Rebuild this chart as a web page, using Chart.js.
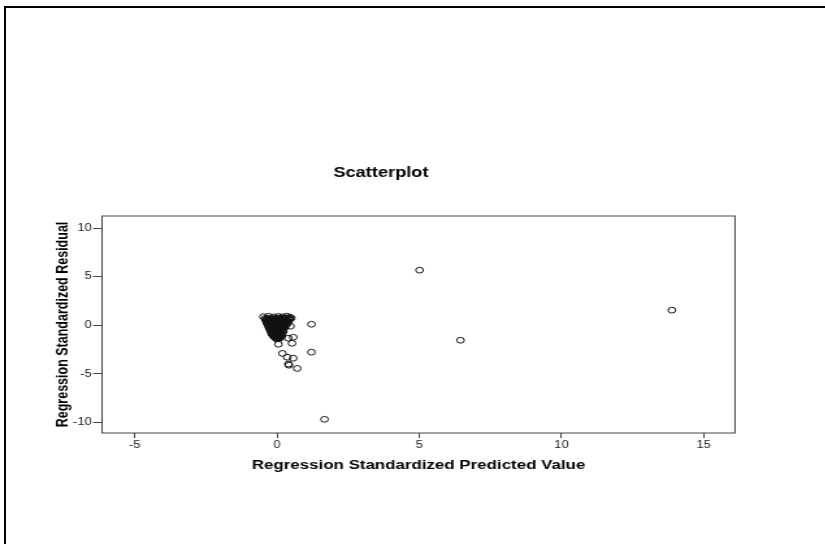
<!DOCTYPE html>
<html>
<head>
<meta charset="utf-8">
<title>Scatterplot</title>
<script src="https://cdn.jsdelivr.net/npm/chart.js@4.4.0/dist/chart.umd.min.js"></script>
<style>
  html, body { margin: 0; padding: 0; background: #fff; overflow: hidden; }
  #frame {
    position: absolute; left: 4px; top: 6px; width: 821px; height: 538px;
    border-left: 2px solid #000; border-top: 2px solid #000;
  }
  /* the original output is stretched sideways, so the canvas is drawn narrow and widened */
  #wrap {
    position: absolute; left: 0; top: 0; width: 635px; height: 544px;
    transform: scaleX(1.3); transform-origin: 0 0;
  }
</style>
</head>
<body>
<div id="frame"></div>
<div id="wrap"><canvas id="scatter" width="635" height="544"></canvas></div>

<script>
// Regression standardized predicted value (x) and residual (y)
const predictedValues = [
  // dense cluster near the origin
  -0.48, -0.30, -0.12, 0.05, 0.20, 0.34, 0.45,
  -0.42, -0.31, -0.18, -0.05, 0.08, 0.19, 0.30, 0.42, 0.50,
  -0.40, -0.27, -0.15, -0.02, 0.11, 0.22, 0.33, 0.44,
  -0.37, -0.26, -0.13, -0.03, 0.09, 0.21, 0.31, 0.40,
  -0.36, -0.23, -0.12, 0.01, 0.12, 0.23, 0.34,
  -0.33, -0.21, -0.10, 0.02, 0.14, 0.25, 0.35,
  -0.30, -0.18, -0.07, 0.04, 0.15, 0.27,
  -0.27, -0.16, -0.05, 0.06, 0.17, 0.28,
  -0.25, -0.14, -0.03, 0.08, 0.19,
  -0.22, -0.11, 0.00, 0.10, 0.21,
  -0.20, -0.09, 0.02, 0.12, 0.22,
  -0.17, -0.06, 0.05, 0.15,
  -0.14, -0.03, 0.07, 0.17,
  -0.10, 0.00, 0.10,
  -0.06, 0.04, 0.12,
  -0.02, 0.07,
  // second, offset layer that fills the cluster in
  -0.36, -0.24, -0.09, 0.02, 0.14, 0.27, 0.38,
  -0.33, -0.20, -0.08, 0.04, 0.16, 0.28, 0.37,
  -0.31, -0.19, -0.06, 0.06, 0.18, 0.29,
  -0.28, -0.15, -0.04, 0.08, 0.20,
  -0.23, -0.12, -0.01, 0.11, 0.20,
  -0.19, -0.07, 0.04, 0.14,
  -0.15, -0.04, 0.08, 0.16,
  -0.11, 0.01, 0.09,
  -0.04, 0.06,
  // scattered points below and right of the cluster
  0.47, 0.57, 0.40, 0.53, 0.05, 0.19, 0.36, 0.57, 0.40, 0.42, 0.71,
  1.21, 1.21, 1.67, 5.01, 6.45, 13.88
];
const residualValues = [
  0.88, 0.92, 0.85, 0.90, 0.86, 0.93, 0.84,
  0.70, 0.72, 0.68, 0.71, 0.73, 0.69, 0.72, 0.70, 0.74,
  0.55, 0.53, 0.57, 0.54, 0.56, 0.52, 0.55, 0.57,
  0.40, 0.42, 0.38, 0.41, 0.39, 0.42, 0.40, 0.37,
  0.25, 0.23, 0.27, 0.24, 0.26, 0.22, 0.25,
  0.10, 0.12, 0.08, 0.11, 0.09, 0.12, 0.10,
  -0.05, -0.03, -0.07, -0.04, -0.06, -0.05,
  -0.20, -0.22, -0.18, -0.21, -0.19, -0.22,
  -0.35, -0.37, -0.33, -0.36, -0.34,
  -0.50, -0.52, -0.48, -0.51, -0.49,
  -0.65, -0.63, -0.67, -0.64, -0.66,
  -0.80, -0.82, -0.78, -0.81,
  -0.95, -0.97, -0.93, -0.96,
  -1.10, -1.12, -1.08,
  -1.25, -1.23, -1.27,
  -1.40, -1.38,
  0.62, 0.64, 0.60, 0.63, 0.61, 0.65, 0.62,
  0.32, 0.30, 0.34, 0.31, 0.33, 0.30, 0.32,
  0.02, 0.04, 0.00, 0.03, 0.01, 0.02,
  -0.28, -0.26, -0.30, -0.27, -0.29,
  -0.57, -0.59, -0.55, -0.58, -0.56,
  -0.88, -0.86, -0.90, -0.87,
  -1.03, -1.05, -1.01, -1.04,
  -1.18, -1.32, -1.16,
  -1.33, -1.31,
  -0.10, -1.24, -1.34, -1.86, -1.96, -2.90, -3.30, -3.40, -4.00, -4.12, -4.45,
  0.10, -2.78, -9.69, 5.67, -1.55, 1.55
];

const xTickValues = [-5, 0, 5, 10, 15];
const yTickValues = [-10, -5, 0, 5, 10];

const chartTitle = 'Scatterplot';
const xAxisTitle = 'Regression Standardized Predicted Value';
const yAxisTitle = 'Regression Standardized Residual';

Chart.defaults.font.family = "'Liberation Sans', Arial, sans-serif";

const points = predictedValues.map((x, i) => ({ x: x, y: residualValues[i] }));

// frame round the plot area and the title above it
const framePlugin = {
  id: 'frame',
  afterDatasetsDraw(chart) {
    const { ctx, chartArea } = chart;
    ctx.save();
    ctx.strokeStyle = '#444';
    ctx.lineWidth = 1;
    ctx.strokeRect(chartArea.left, chartArea.top,
      chartArea.right - chartArea.left, chartArea.bottom - chartArea.top);
    ctx.fillStyle = '#000';
    ctx.font = "bold 14px 'Liberation Sans', Arial, sans-serif";
    ctx.textAlign = 'center';
    ctx.textBaseline = 'middle';
    ctx.fillText(chartTitle, 293, 173);
    ctx.restore();
  }
};

new Chart(document.getElementById('scatter'), {
  type: 'scatter',
  data: {
    datasets: [{
      data: points,
      pointRadius: 2.9,
      pointBorderWidth: 1,
      pointBorderColor: '#111',
      pointBackgroundColor: 'rgba(0,0,0,0)'
    }]
  },
  options: {
    responsive: false,
    animation: false,
    layout: { padding: { left: 0, top: 216, right: 69.6, bottom: 0 } },
    plugins: {
      legend: { display: false },
      tooltip: { enabled: false }
    },
    scales: {
      x: {
        type: 'linear',
        min: -6.15,
        max: 16.1,
        afterBuildTicks: s => { s.ticks = xTickValues.map(v => ({ value: v })); },
        afterFit: s => { s.height = 111; },
        grid: { drawOnChartArea: false, drawTicks: true, tickLength: 5, color: '#444' },
        border: { display: false },
        ticks: { color: '#222', font: { size: 10 }, padding: 1, maxRotation: 0, autoSkip: false },
        title: {
          display: true, text: xAxisTitle, color: '#000',
          font: { size: 13, weight: 'bold' },
          padding: { top: 0, bottom: 71 }
        }
      },
      y: {
        type: 'linear',
        min: -11.1,
        max: 11.25,
        afterBuildTicks: s => { s.ticks = yTickValues.map(v => ({ value: v })); },
        afterFit: s => { s.width = 78.5; },
        grid: { drawOnChartArea: false, drawTicks: true, tickLength: 7, color: '#444' },
        border: { display: false },
        ticks: { color: '#222', font: { size: 10 }, padding: 1, autoSkip: false },
        title: {
          display: true, text: yAxisTitle, color: '#000',
          font: { size: 12.5, weight: 'bold' },
          padding: { top: 41, bottom: 0 }
        }
      }
    }
  },
  plugins: [framePlugin]
});
</script>
</body>
</html>
